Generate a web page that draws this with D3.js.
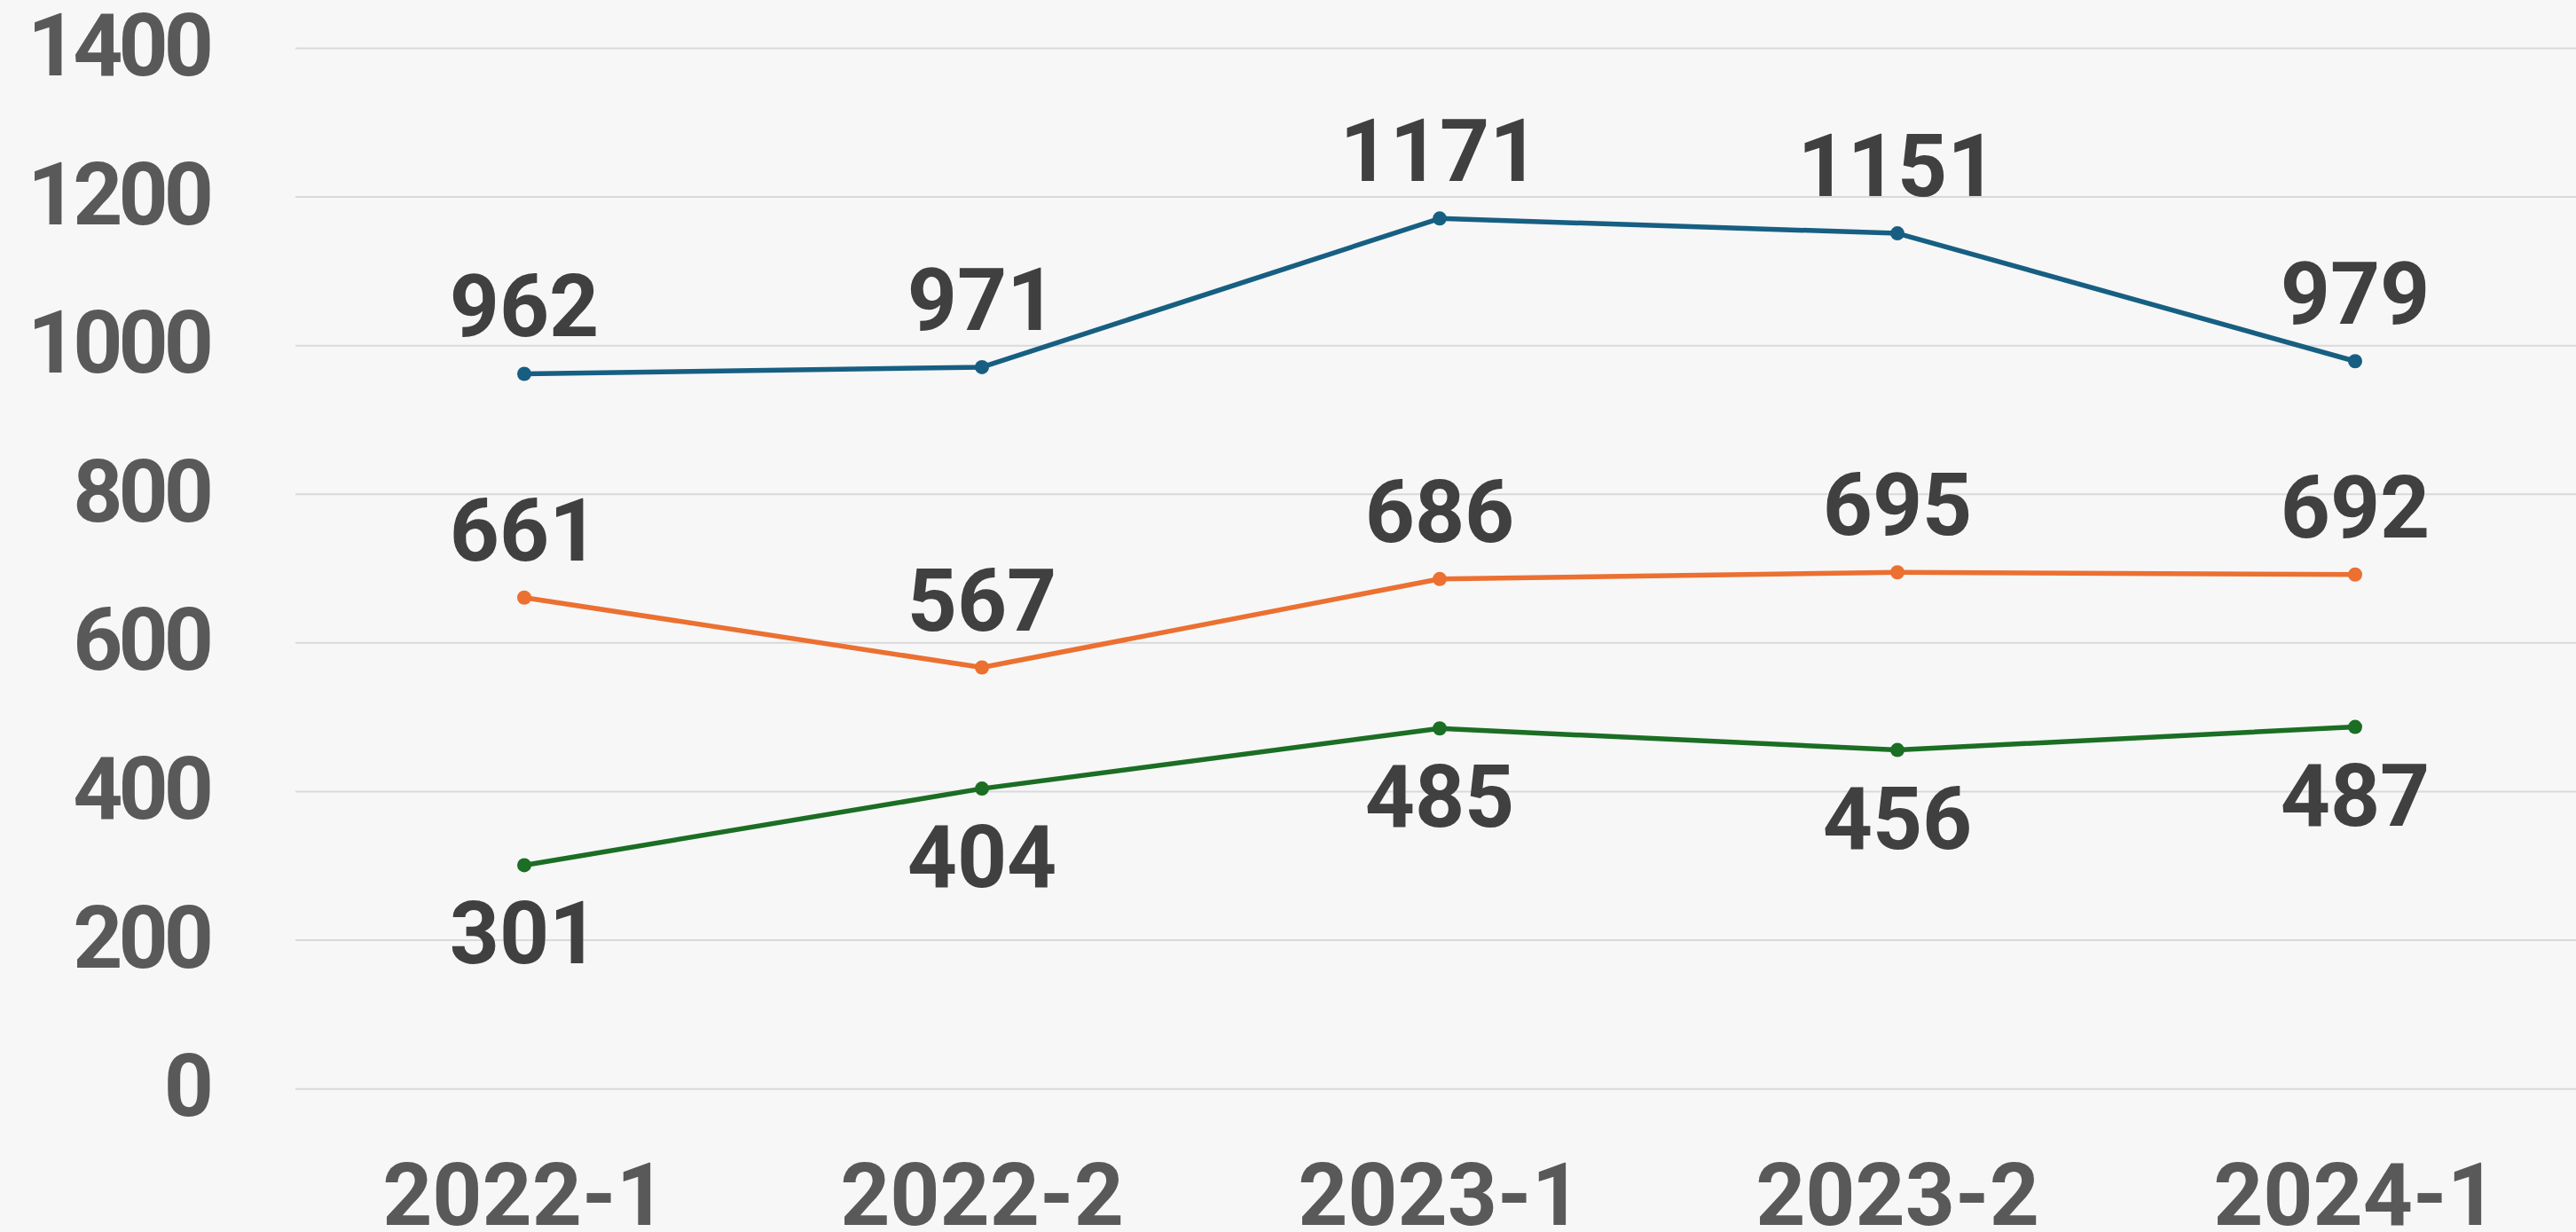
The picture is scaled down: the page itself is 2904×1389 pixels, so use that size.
<!DOCTYPE html>
<html>
<head>
<meta charset="utf-8">
<script src="https://cdn.jsdelivr.net/npm/d3@7"></script>
<style>
  html, body { margin: 0; padding: 0; background: #f7f7f7; }
  svg { display: block; }
  text { font-family: Roboto, "Noto Sans", sans-serif; font-weight: 700; }
</style>
</head>
<body>
<svg id="chart" width="2904" height="1389"></svg>
<script>
const categories = ["2022-1", "2022-2", "2023-1", "2023-2", "2024-1"];
const seriesBlue = [962, 971, 1171, 1151, 979];
const seriesOrange = [661, 567, 686, 695, 692];
const seriesGreen = [301, 404, 485, 456, 487];
const yTicks = [0, 200, 400, 600, 800, 1000, 1200, 1400];

const series = [
  { name: "blue", values: seriesBlue, color: "#175f82", labelPos: "above" },
  { name: "orange", values: seriesOrange, color: "#eb7031", labelPos: "above" },
  { name: "green", values: seriesGreen, color: "#1b6e24", labelPos: "below" }
];

const W = 2904, H = 1389;
const svg = d3.select("#chart");
svg.append("rect").attr("width", W).attr("height", H).attr("fill", "#f7f7f7");

const x = d3.scaleBand().domain(categories).range([333, 2913]).padding(0);
const y = d3.scaleLinear().domain([0, 1400]).range([1227.7, 54.4]);
const cx = d => x(d) + x.bandwidth() / 2;

// gridlines
svg.append("g").selectAll("line").data(yTicks).join("line")
  .attr("x1", 333).attr("x2", W)
  .attr("y1", d => y(d)).attr("y2", d => y(d))
  .attr("stroke", "#d9d9d9").attr("stroke-width", 2);

// y axis labels
const yAxis = d3.axisLeft(y).tickValues(yTicks).tickFormat(d3.format("d")).tickSize(0).tickPadding(0);
const yg = svg.append("g").attr("transform", "translate(241,0)").call(yAxis);
yg.select(".domain").remove();
yg.selectAll("text")
  .attr("fill", "#595959").attr("font-size", 98)
  .attr("dy", null).attr("y", 30).attr("x", -5)
  .attr("text-anchor", "end")
  .style("letter-spacing", "-5px")
  .style("font-family", "Roboto, sans-serif").style("font-weight", 700);

// x axis labels
const xAxis = d3.axisBottom(x).tickSize(0).tickPadding(0);
const xg = svg.append("g").attr("transform", "translate(0,0)").call(xAxis);
xg.select(".domain").remove();
xg.selectAll("text")
  .attr("fill", "#595959").attr("font-size", 98)
  .attr("dy", null).attr("y", 1381)
  .attr("text-anchor", "middle")
  .style("font-family", "Roboto, sans-serif").style("font-weight", 700);

const line = d3.line().x((d, i) => cx(categories[i])).y(d => y(d));

series.forEach(s => {
  const g = svg.append("g");
  g.append("path").datum(s.values)
    .attr("d", line).attr("fill", "none")
    .attr("stroke", s.color).attr("stroke-width", 5.5)
    .attr("stroke-linejoin", "round");
  g.selectAll("circle").data(s.values).join("circle")
    .attr("cx", (d, i) => cx(categories[i])).attr("cy", d => y(d))
    .attr("r", 8).attr("fill", s.color);
  g.selectAll("text").data(s.values).join("text")
    .attr("x", (d, i) => cx(categories[i]))
    .attr("y", d => s.labelPos === "above" ? y(d) - 42 : y(d) + 111)
    .attr("text-anchor", "middle")
    .attr("font-size", 98).attr("fill", "#404040")
    .text(d => d);
});
</script>
</body>
</html>
